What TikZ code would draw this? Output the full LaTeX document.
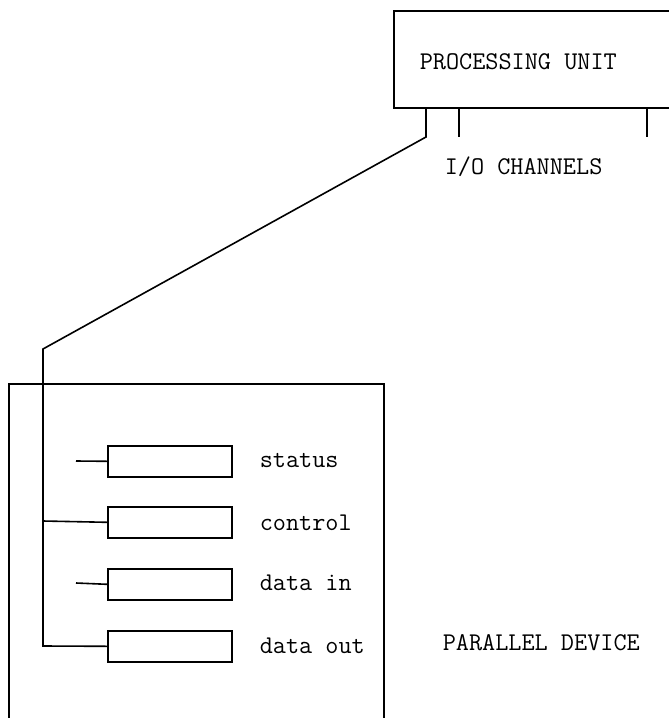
\documentclass[tikz,border=0pt]{standalone}
\begin{document}
\begin{tikzpicture}[x=1pt,y=-1pt,line width=1.6pt,
  box/.style={draw,rectangle,inner sep=0pt,anchor=north west},
  reg/.style={box,minimum width=124pt,minimum height=31pt},
  lbl/.style={font=\ttfamily\fontsize{25.5}{30}\selectfont,inner sep=0pt,anchor=west}]
\useasboundingbox (0,0) rectangle (669,718);
\clip (0,0) rectangle (669,718);
% processing unit
\node[box,minimum width=310pt,minimum height=97pt] (pu) at (393,10) {};
\node[lbl] (putxt) at (419,62) {PROCESSING UNIT};
\coordinate (s1) at (426,107);
\coordinate (s1b) at (426,137);
\coordinate (s2) at (459,107);
\coordinate (s2b) at (459,137);
\coordinate (s3) at (647,107);
\coordinate (s3b) at (647,137);
\draw (s2) -- (s2b);
\draw (s3) -- (s3b);
\node[lbl] (io) at (444,167) {I/O CHANNELS};
% parallel device
\node[box,minimum width=375pt,minimum height=360pt] (pd) at (8,383) {};
\node[lbl] (pdtxt) at (442,643) {PARALLEL DEVICE};
% registers
\node[reg] (st) at (107,445) {};
\node[reg] (ct) at (107,506) {};
\node[reg] (di) at (107,568) {};
\node[reg] (do) at (107,630) {};
\node[lbl] at (259,461) {status};
\node[lbl] at (259,523) {control};
\node[lbl] at (259,583) {data in};
\node[lbl] at (259,646) {data out};
\coordinate (sts) at (76,461);
\coordinate (dis) at (76,583);
\draw (sts) -- (st.west);
\draw (dis) -- (di.west);
\coordinate (kink) at (43,349);
\coordinate (cj) at (43,521);
\coordinate (dj) at (43,646);
\draw (s1) -- (s1b) -- (kink) -- (dj) -- (do.west);
\draw (cj) -- (ct.west);
\end{tikzpicture}
\end{document}
